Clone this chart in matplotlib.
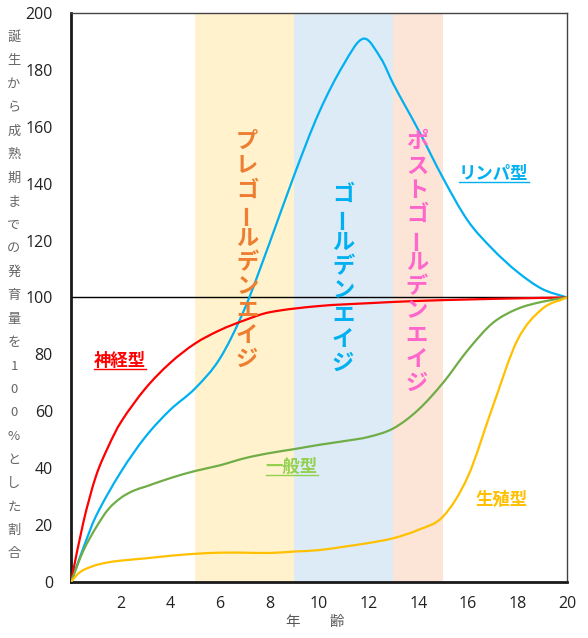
import numpy as np
import matplotlib.pyplot as plt
from matplotlib.path import Path
from matplotlib.patches import PathPatch
from matplotlib.lines import Line2D

plt.rcParams["font.family"] = ["Noto Sans CJK JP", "DejaVu Sans"]

# --------------------------------------------------------------------------- #
lymph_x = [0, 0.5, 1, 2, 3, 4, 5, 6, 7, 8, 9, 10, 11, 11.8, 12.5, 13, 14,
           15, 16, 17, 18, 19, 20]
lymph = [0, 12, 23, 38.5, 51, 60.5, 68, 78.5, 96, 119, 143, 165, 182, 191,
         184, 175, 159, 142, 127, 117, 109, 103, 100]

neural_x = [0, 0.5, 1, 1.5, 2, 3, 4, 5, 6, 7, 8, 10, 12, 14, 16, 18, 20]
neural = [0, 21, 37, 47.5, 56, 68, 77, 83.8, 88.5, 92, 94.8, 97, 98, 98.8,
          99.3, 99.7, 100]

general_x = [0, 0.5, 1, 1.5, 2, 2.5, 3, 4, 5, 6, 7, 8, 9, 10, 11, 12, 13, 14,
             15, 16, 17, 18, 19, 20]
general = [0, 11, 19, 25.5, 29.5, 32, 33.5, 36.5, 39, 41, 43.5, 45.3, 46.7,
           48.2, 49.5, 51, 54, 60.5, 70, 81.5, 91, 96, 98.5, 100]

genital_x = [0, 0.25, 0.5, 1, 1.5, 2, 3, 4, 5, 6, 7, 8, 9, 10, 11, 12, 13, 14,
             15, 16, 17, 18, 19, 20]
genital = [0, 2.6, 4.2, 5.9, 6.9, 7.5, 8.3, 9.2, 9.9, 10.3, 10.3, 10.2, 10.7,
           11.2, 12.4, 13.7, 15.4, 18.3, 23, 37, 61.5, 85, 96, 100]

series = [("リンパ型", lymph_x, lymph, "#00B0F0", "#00B0F0", (17.05, 143.4), True),
          ("神経型", neural_x, neural, "#FF0000", "#FF0000", (1.98, 77.7), True),
          ("一般型", general_x, general, "#70AD47", "#92D050", (8.9, 40.4), True),
          ("生殖型", genital_x, genital, "#FFC000", "#FFC000", (17.37, 29), False)]

periods = [("プレゴールデンエイジ", 5, 9, "#FFF2CC", "#ED7D31", 7.1, 159),
           ("ゴールデンエイジ", 9, 13, "#DDEBF7", "#00B0F0", 10.97, 140.6),
           ("ポストゴールデンエイジ", 13, 15, "#FCE4D6", "#FF66CC", 13.95, 159)]

ylabel = "誕生から成熟期までの発育量を100%とした割合"
xlabel = "年　　齢"


def smooth_path(x, y):
    # smoothed line: cubic Bezier segments through every point
    x = np.asarray(x, float)
    y = np.asarray(y, float)
    n = len(x)
    m = np.empty(n)
    m[0] = (y[1] - y[0]) / (x[1] - x[0])
    m[-1] = (y[-1] - y[-2]) / (x[-1] - x[-2])
    m[1:-1] = (y[2:] - y[:-2]) / (x[2:] - x[:-2])
    verts = [(x[0], y[0])]
    codes = [Path.MOVETO]
    for i in range(n - 1):
        h = x[i + 1] - x[i]
        verts += [(x[i] + h / 3, y[i] + m[i] * h / 3),
                  (x[i + 1] - h / 3, y[i + 1] - m[i + 1] * h / 3),
                  (x[i + 1], y[i + 1])]
        codes += [Path.CURVE4] * 3
    return Path(verts, codes)


# --------------------------------------------------------------------------- #
fig = plt.figure(figsize=(5.88, 6.38), dpi=100)
ax = fig.add_axes([0.1207, 0.0878, 0.8436, 0.8918])

for name, x0, x1, bg, fg, xc, ytop in periods:
    ax.axvspan(x0, x1, color=bg, lw=0, zorder=0)

ax.axhline(100, color="black", lw=1.0, zorder=1)

for name, xs, vals, col, tcol, pos, under in series:
    ax.add_patch(PathPatch(smooth_path(xs, vals), fc="none", ec=col,
                           lw=1.6, zorder=3, capstyle="round"))

# vertical period labels, one glyph at a time
step = 17.4
for name, x0, x1, bg, fg, xc, ytop in periods:
    for i, ch in enumerate(name):
        ax.annotate(ch, xy=(xc, ytop), xytext=(0, -(i + 0.5) * step),
                    textcoords="offset points", ha="center", va="center",
                    fontsize=16, fontweight="bold", color=fg,
                    rotation=90 if ch == "ー" else 0, zorder=4)

labels = []
for name, xs, vals, col, tcol, pos, under in series:
    t = ax.text(pos[0], pos[1], name, color=tcol, fontsize=12.5,
                fontweight="bold", ha="center", va="center", zorder=5)
    if under:
        labels.append((t, tcol))

ax.set_xlim(0, 20)
ax.set_ylim(0, 200)
ax.set_xticks(range(2, 21, 2))
ax.set_yticks(range(0, 201, 20))
ax.tick_params(length=0, labelsize=11.5, labelcolor="#222222")
ax.tick_params(axis="y", pad=13)
ax.tick_params(axis="x", pad=10)
for lbl in ax.get_xticklabels() + ax.get_yticklabels():
    lbl.set_family(["Open Sans", "DejaVu Sans"])

for s in ["left", "bottom"]:
    ax.spines[s].set_linewidth(2.0)
    ax.spines[s].set_color("#1a1a1a")
for s in ["top", "right"]:
    ax.spines[s].set_linewidth(1.0)
    ax.spines[s].set_color("#444444")

# y axis title, written vertically
ystep = 23.5
for i, ch in enumerate(ylabel):
    fig.text(14 / 588, 1 - (37 + i * ystep) / 638, ch, ha="center",
             va="center", fontsize=9.5, color="#666666")

fig.text(315 / 588, 1 - 622 / 638, xlabel, ha="center", va="center",
         fontsize=10.5, color="#595959")

# underline the curve labels
fig.canvas.draw()
for t, c in labels:
    bb = t.get_window_extent()
    fig.add_artist(Line2D([bb.x0 / 588, bb.x1 / 588],
                          [(bb.y0 + 1) / 638, (bb.y0 + 1) / 638],
                          color=c, lw=1.0))

fig.savefig("out.png", dpi=100)
